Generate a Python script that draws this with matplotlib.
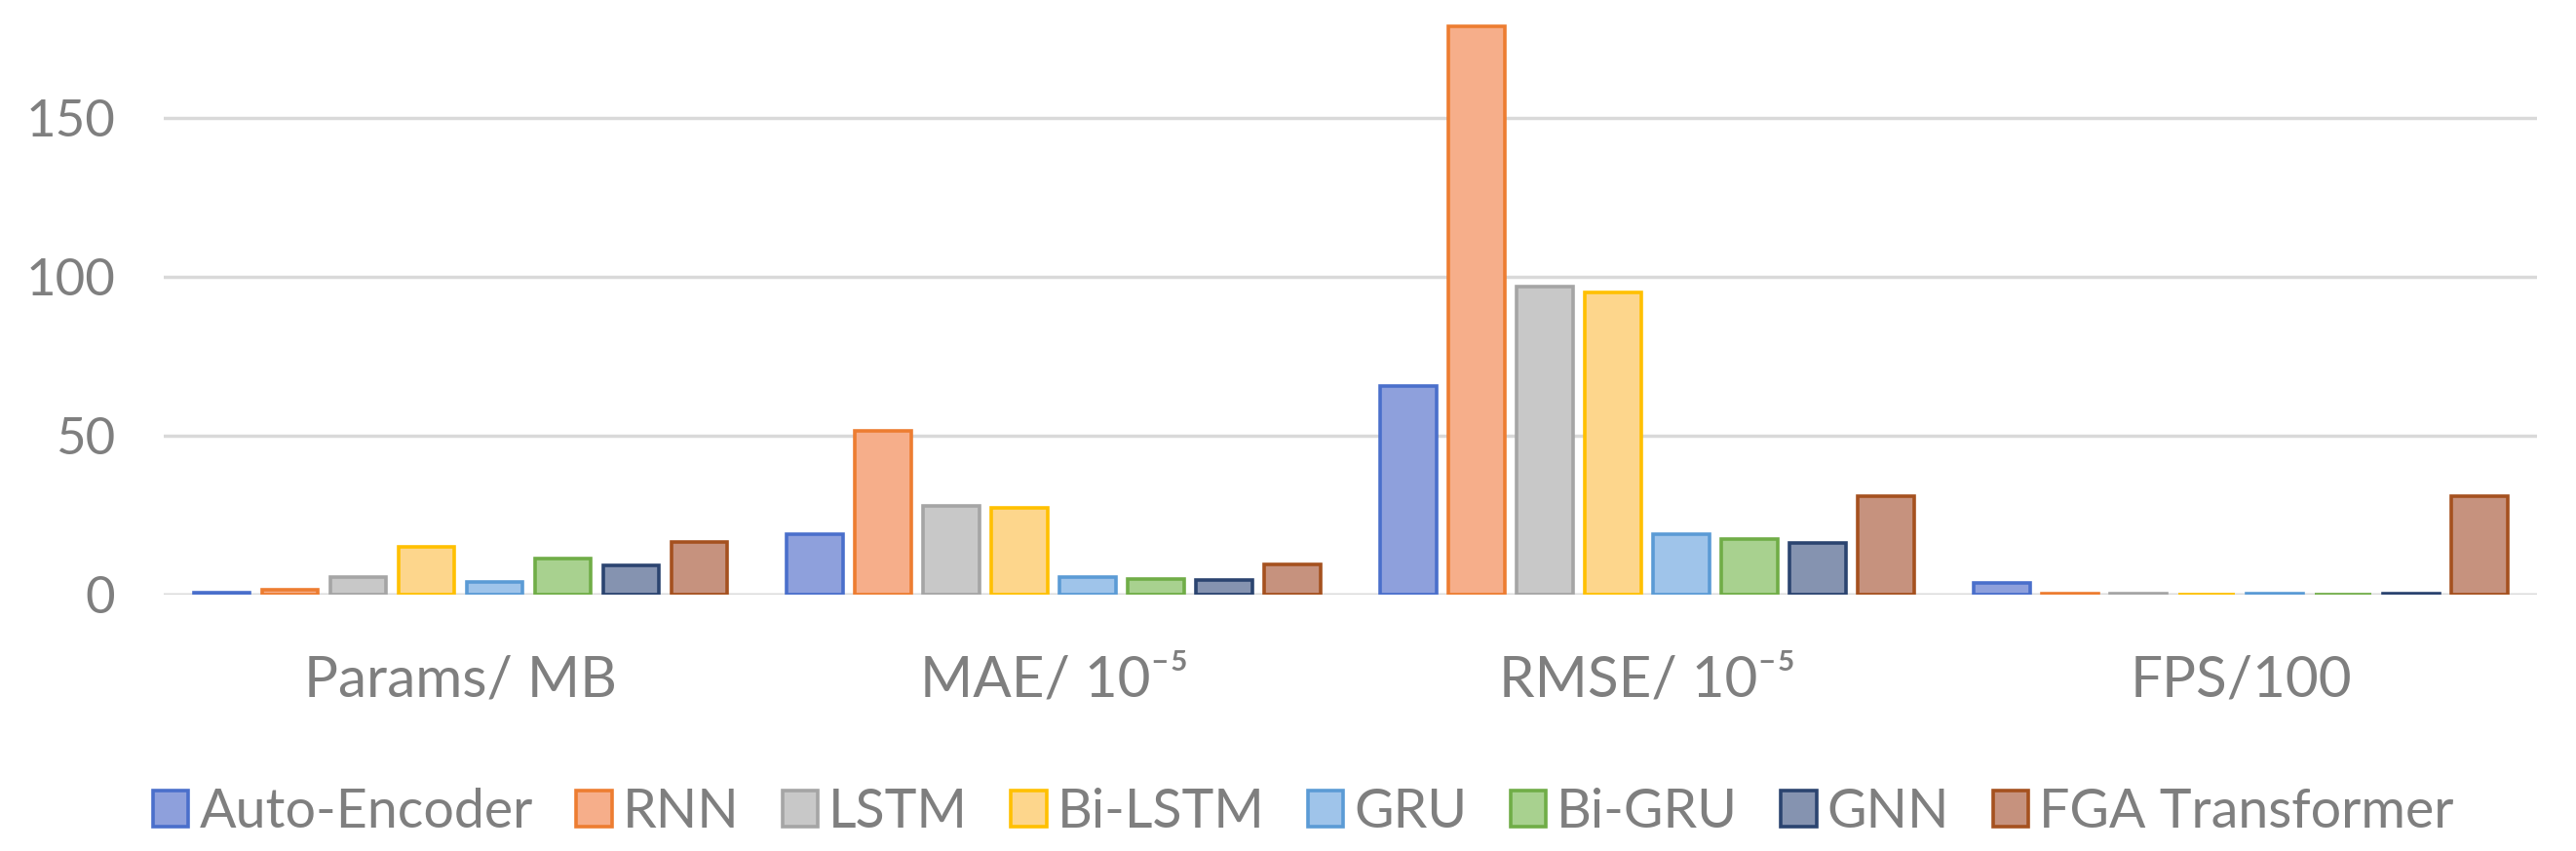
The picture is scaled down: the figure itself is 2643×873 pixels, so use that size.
import matplotlib.pyplot as plt
import numpy as np

plt.rcParams['font.family'] = ['Lato', 'DejaVu Sans']

# DADOS

categorias = ['Params/ MB', 'MAE/ 10⁻⁵', 'RMSE/ 10⁻⁵', 'FPS/100']
modelos = ['Auto-Encoder', 'RNN', 'LSTM', 'Bi-LSTM', 'GRU', 'Bi-GRU', 'GNN', 'FGA Transformer']

auto_encoder = [0.7, 19.0, 65.8, 3.6]
rnn = [1.6, 51.6, 178.7, 0.3]
lstm = [5.5, 28.0, 96.8, 0.3]
bi_lstm = [15.2, 27.3, 95.2, 0.2]
gru = [4.1, 5.6, 19.0, 0.3]
bi_gru = [11.4, 4.9, 17.4, 0.2]
gnn = [9.3, 4.6, 16.2, 0.5]
fga = [16.7, 9.7, 30.9, 30.9]

series = [auto_encoder, rnn, lstm, bi_lstm, gru, bi_gru, gnn, fga]

preench = ['#8ea0dc', '#f6ae8a', '#c8c8c8', '#fdd68c', '#9fc4ea', '#a8d18f', '#8593b0', '#c6927e']
borda = ['#4a6fcb', '#ed7d31', '#a5a5a5', '#ffc000', '#5b9bd5', '#70ad47', '#2b4470', '#a5511f']

cinza = '#7f7f7f'

# FIGURA

fig = plt.figure(figsize=(26.43, 8.73), dpi=100)
ax = fig.add_axes([0.0636, 0.301, 0.9214, 0.699])

x = np.arange(len(categorias))
slot = 0.115
larg = 0.095
n = len(series)

for i in range(n):
    pos = x + (i - (n - 1) / 2) * slot
    ax.bar(pos, series[i], width=larg, color=preench[i], edgecolor=borda[i],
           linewidth=2.6, label=modelos[i], zorder=3)

ax.set_xlim(-0.5, len(categorias) - 0.5)
ax.set_ylim(0, 187)
ax.set_yticks([0, 50, 100, 150])
ax.yaxis.grid(True, color='#d9d9d9', linewidth=2.5, zorder=0)
for s in ['top', 'right', 'left', 'bottom']:
    ax.spines[s].set_visible(False)
ax.axhline(0, color='#d9d9d9', linewidth=2.5, zorder=1)

ax.set_xticks(x)
ax.set_xticklabels(categorias)
ax.tick_params(axis='both', length=0, colors=cinza)
ax.tick_params(axis='y', pad=36, labelsize=38)
ax.tick_params(axis='x', pad=44, labelsize=42)

ax.legend(loc='center', bbox_to_anchor=(0.506, 0.045), bbox_transform=fig.transFigure,
          ncol=8, frameon=False, fontsize=40, labelcolor=cinza,
          handlelength=0.65, handleheight=0.65, handletextpad=0.2, columnspacing=0.8)

fig.savefig('out.png', dpi=100)
